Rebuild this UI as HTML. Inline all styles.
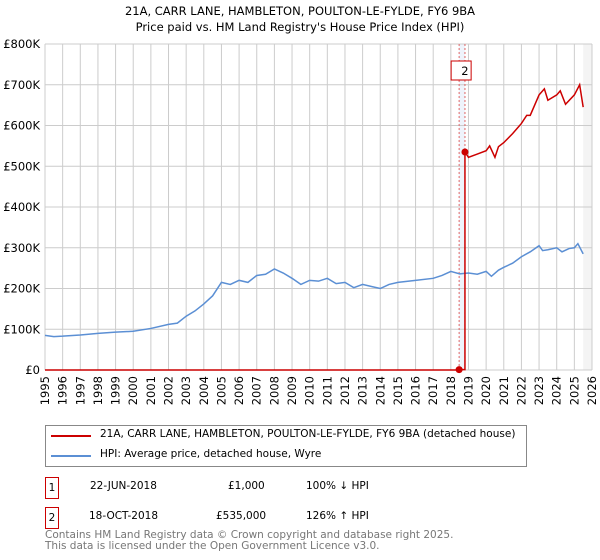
<!DOCTYPE html>
<html><head><meta charset="utf-8"><style>
body{margin:0;width:600px;height:560px;background:#fff;font-family:"DejaVu Sans","Liberation Sans",sans-serif;overflow:hidden;position:relative}
.t{position:absolute;white-space:nowrap;color:#000}
</style></head><body>
<div class="t" style="left:0;width:600px;text-align:center;top:4px;font-size:11.5px">21A, CARR LANE, HAMBLETON, POULTON-LE-FYLDE, FY6 9BA</div>
<div class="t" style="left:0;width:600px;text-align:center;top:20px;font-size:11.5px">Price paid vs. HM Land Registry's House Price Index (HPI)</div>
<svg id="c" width="600" height="420" style="position:absolute;left:0;top:0" font-family="DejaVu Sans, Liberation Sans, sans-serif" font-size="11.5"></svg>
<div style="position:absolute;left:45px;top:425px;width:480px;height:40px;border:1px solid #888"></div>
<div style="position:absolute;left:51px;top:435px;width:40px;height:2px;background:#cc0000"></div>
<div class="t" style="left:100px;top:428px;font-size:10.5px">21A, CARR LANE, HAMBLETON, POULTON-LE-FYLDE, FY6 9BA (detached house)</div>
<div style="position:absolute;left:51px;top:455px;width:40px;height:2px;background:#5b8fd4"></div>
<div class="t" style="left:100px;top:448px;font-size:10.5px">HPI: Average price, detached house, Wyre</div>
<div style="position:absolute;left:45px;top:477px;width:12px;height:20px;border:1px solid #cc0000;font-size:10.5px;text-align:center;line-height:20px">1</div>
<div class="t" style="left:90px;top:480px;font-size:10.5px">22-JUN-2018</div>
<div class="t" style="left:228px;top:480px;font-size:10.5px">£1,000</div>
<div class="t" style="left:306px;top:480px;font-size:10.5px">100% ↓ HPI</div>
<div style="position:absolute;left:45px;top:507px;width:12px;height:20px;border:1px solid #cc0000;font-size:10.5px;text-align:center;line-height:20px">2</div>
<div class="t" style="left:89px;top:510px;font-size:10.5px">18-OCT-2018</div>
<div class="t" style="left:216px;top:510px;font-size:10.5px">£535,000</div>
<div class="t" style="left:306px;top:510px;font-size:10.5px">126% ↑ HPI</div>
<div class="t" style="left:45px;top:530px;font-size:10.5px;color:#777;line-height:11px">Contains HM Land Registry data © Crown copyright and database right 2025.<br>This data is licensed under the Open Government Licence v3.0.</div>
<script>
const yTicks=[0,100,200,300,400,500,600,700,800];
const years=[1995,1996,1997,1998,1999,2000,2001,2002,2003,2004,2005,2006,2007,2008,2009,2010,2011,2012,2013,2014,2015,2016,2017,2018,2019,2020,2021,2022,2023,2024,2025,2026];
const hpiT=[1995,1995.5,1996,1997,1998,1999,2000,2001,2002,2002.5,2003,2003.5,2004,2004.5,2005,2005.5,2006,2006.5,2007,2007.5,2008,2008.5,2009,2009.5,2010,2010.5,2011,2011.5,2012,2012.5,2013,2013.5,2014,2014.5,2015,2016,2017,2017.5,2018,2018.5,2019,2019.5,2020,2020.3,2020.7,2021,2021.5,2022,2022.5,2023,2023.2,2023.5,2024,2024.3,2024.7,2025,2025.2,2025.5];
const hpiV=[85,82,83,86,90,93,95,102,112,115,132,145,162,182,215,210,220,215,232,235,248,238,225,210,220,218,225,212,215,202,210,205,200,210,215,220,225,232,242,236,238,235,242,230,245,252,262,278,290,305,293,295,300,290,298,300,310,285];
const redT=[1995,2018.47,2018.47,2018.8,2018.8,2019,2019.5,2020,2020.2,2020.5,2020.7,2021,2021.5,2022,2022.3,2022.5,2023,2023.3,2023.5,2024,2024.2,2024.5,2025,2025.3,2025.5];
const redV=[0,0,1,1,535,522,530,538,550,522,548,558,580,605,625,625,675,690,662,675,685,652,675,700,645];
const sales=[{t:2018.47,v:1},{t:2018.8,v:535}];
const L=45,R=592,T=44,B=370;
const X=t=>L+(t-1995)/(2026-1995)*(R-L);
const Y=v=>B-v/800*(B-T);
const s=document.getElementById('c');const NS='http://www.w3.org/2000/svg';
function mk(tag,a,p){const e=document.createElementNS(NS,tag);for(const k in a)e.setAttribute(k,a[k]);(p||s).appendChild(e);return e;}
let e=mk('rect',{x:X(2018.47),y:T,width:X(2018.8)-X(2018.47),height:B-T,fill:'#eef3fb'});


e=mk('rect',{x:X(2025.5),y:T,width:R-X(2025.5),height:B-T,fill:'#f4f4f4'});


years.forEach(y=>{let g=mk('line',{x1:X(y),x2:X(y),y1:T,y2:B,stroke:'#ccc'});


let t=mk('text',{x:X(y)+4,y:B+6,transform:`rotate(-90 ${X(y)+4} ${B+6})`,'text-anchor':'end'});t.textContent=y;

});
yTicks.forEach(v=>{let g=mk('line',{x1:L,x2:R,y1:Y(v),y2:Y(v),stroke:'#ccc'});


let t=mk('text',{x:L-5,y:Y(v)+4,'text-anchor':'end'});t.textContent=v?'£'+v+'K':'£0';

});
sales.forEach(p=>{let l=mk('line',{x1:X(p.t),x2:X(p.t),y1:T,y2:B,stroke:'#e06666','stroke-dasharray':'2,2'});

});
let hp=mk('polyline',{points:hpiT.map((t,i)=>X(t)+','+Y(hpiV[i])).join(' '),fill:'none',stroke:'#5b8fd4','stroke-width':1.5});


let rp=mk('polyline',{points:redT.map((t,i)=>X(t)+','+Y(redV[i])).join(' '),fill:'none',stroke:'#cc0000','stroke-width':1.5});


sales.forEach(p=>{let c=mk('circle',{cx:X(p.t),cy:Y(p.v),r:3.5,fill:'#cc0000'});

});
let bx=mk('rect',{x:X(2018.47)-8,y:61,width:20,height:19,fill:'#fff',stroke:'#cc0000'});


let bt=mk('text',{x:X(2018.8),y:75,'text-anchor':'middle'});bt.textContent='2';


</script>
</body></html>
